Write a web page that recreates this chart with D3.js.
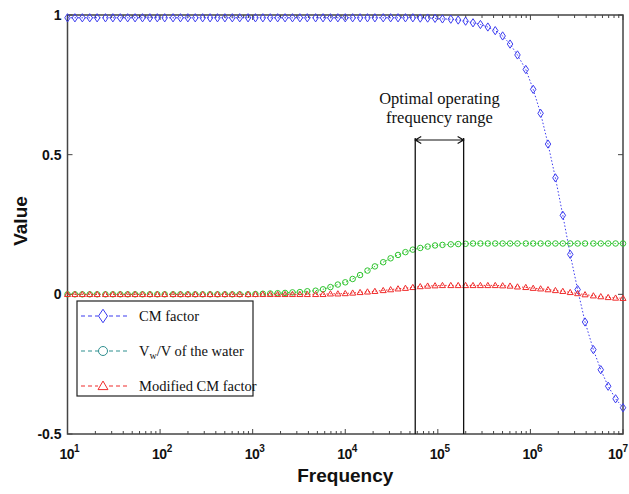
<!DOCTYPE html>
<head>
<meta charset="utf-8">
<style>
body { margin: 0; background: white; }
.frame { fill: none; stroke: #444; stroke-width: 1.5px; }
.ticklab { font-family: "Liberation Sans", Arial, sans-serif; font-weight: bold; font-size: 14px; fill: #111; }
.axlab { font-family: "Liberation Sans", Arial, sans-serif; font-weight: bold; font-size: 19px; fill: #111; }
.serif { font-family: "Liberation Serif", "Times New Roman", serif; fill: #111; }
</style>
</head>
<body>
<div id="mainDiv" style="width: 629px; height: 494px; background-color: white;">
<script src="https://cdn.jsdelivr.net/npm/d3@7"></script>
<script>

var width = 629;
var height = 494;

// sampling grid, log10(frequency)
var logFreq = [1.00, 1.08, 1.16, 1.24, 1.32, 1.41, 1.49, 1.57, 1.65, 1.73,
  1.81, 1.89, 1.97, 2.05, 2.14, 2.22, 2.30, 2.38, 2.46, 2.54,
  2.62, 2.70, 2.78, 2.86, 2.95, 3.03, 3.11, 3.19, 3.27, 3.35,
  3.43, 3.51, 3.59, 3.68, 3.76, 3.84, 3.92, 4.00, 4.08, 4.16,
  4.24, 4.32, 4.41, 4.49, 4.57, 4.65, 4.73, 4.81, 4.89, 4.97,
  5.05, 5.14, 5.22, 5.30, 5.38, 5.46, 5.54, 5.62, 5.70, 5.78,
  5.86, 5.95, 6.03, 6.11, 6.19, 6.27, 6.35, 6.43, 6.51, 6.59,
  6.68, 6.76, 6.84, 6.92, 7.00];

var cmFactor = [0.99, 0.99, 0.99, 0.99, 0.99, 0.99, 0.99, 0.99, 0.99, 0.99,
  0.99, 0.99, 0.99, 0.99, 0.99, 0.99, 0.99, 0.99, 0.99, 0.99,
  0.99, 0.99, 0.99, 0.99, 0.99, 0.99, 0.99, 0.99, 0.99, 0.99,
  0.99, 0.99, 0.99, 0.99, 0.99, 0.99, 0.99, 0.99, 0.99, 0.99,
  0.99, 0.99, 0.99, 0.99, 0.99, 0.99, 0.99, 0.989, 0.989, 0.988,
  0.986, 0.985, 0.982, 0.978, 0.972, 0.966, 0.957, 0.944, 0.925, 0.896,
  0.857, 0.805, 0.734, 0.648, 0.538, 0.417, 0.283, 0.143, 0.017, -0.099,
  -0.198, -0.270, -0.329, -0.374, -0.406];

var waterFrac = [0, 0, 0, 0, 0, 0, 0, 0, 0, 0,
  0, 0, 0, 0, 0, 0, 0, 0, 0, 0,
  0, 0, 0, 0, 0, 0.001, 0.002, 0.003, 0.004, 0.005,
  0.007, 0.008, 0.011, 0.013, 0.018, 0.026, 0.035, 0.043, 0.055, 0.069,
  0.085, 0.100, 0.115, 0.129, 0.141, 0.151, 0.160, 0.166, 0.171, 0.175,
  0.177, 0.179, 0.180, 0.181, 0.182, 0.182, 0.182, 0.182, 0.182, 0.182,
  0.182, 0.182, 0.182, 0.182, 0.182, 0.182, 0.182, 0.182, 0.182, 0.182,
  0.182, 0.182, 0.182, 0.182, 0.182];

var modifiedCM = [0, 0, 0, 0, 0, 0, 0, 0, 0, 0,
  0, 0, 0, 0, 0, 0, 0, 0, 0, 0,
  0, 0, 0, 0, 0, 0, 0, 0, 0, 0,
  0, 0, 0, 0, 0, 0.002, 0.002, 0.003, 0.005, 0.007,
  0.009, 0.011, 0.014, 0.017, 0.020, 0.022, 0.025, 0.028, 0.030, 0.031,
  0.032, 0.032, 0.032, 0.032, 0.032, 0.032, 0.032, 0.032, 0.031, 0.030,
  0.027, 0.025, 0.022, 0.020, 0.017, 0.014, 0.011, 0.007, 0.003, -0.001,
  -0.005, -0.008, -0.011, -0.013, -0.014];

var yTicks = [-0.5, 0, 0.5, 1];
var yTickLabels = ["-0.5", "0", "0.5", "1"];
var xDecades = [1, 2, 3, 4, 5, 6, 7];
var legendLabels = ["CM factor", "V_w/V of the water", "Modified CM factor"];
var bandFreqs = [5.7e4, 1.9e5];
var bandText = ["Optimal operating", "frequency range"];

var margin = {left: 67.5, right: 6, top: 15, bottom: 60};

var x = d3.scaleLog().domain([1e1, 1e7]).range([margin.left, width - margin.right]);
var y = d3.scaleLinear().domain([-0.5, 1]).range([height - margin.bottom, margin.top]);

var svg = d3.select("#mainDiv").append("svg")
    .attr("width", width)
    .attr("height", height);

var x0 = x.range()[0], x1 = x.range()[1], y0 = y.range()[0], y1 = y.range()[1];

// ticks, pointing into the box on all four sides
var ticks = svg.append("g").attr("stroke", "#444").attr("stroke-width", 1);
x.ticks().forEach(function(t) {
  var lg = Math.log10(t);
  var major = Math.abs(lg - Math.round(lg)) < 1e-9;
  var len = major ? 5 : 3;
  ticks.append("line").attr("x1", x(t)).attr("x2", x(t)).attr("y1", y0).attr("y2", y0 - len);
  ticks.append("line").attr("x1", x(t)).attr("x2", x(t)).attr("y1", y1).attr("y2", y1 + len);
});
yTicks.forEach(function(t) {
  ticks.append("line").attr("x1", x0).attr("x2", x0 + 5).attr("y1", y(t)).attr("y2", y(t));
  ticks.append("line").attr("x1", x1).attr("x2", x1 - 5).attr("y1", y(t)).attr("y2", y(t));
});

svg.append("rect").attr("class", "frame")
    .attr("x", x0).attr("y", y1).attr("width", x1 - x0).attr("height", y0 - y1);

// y tick labels
svg.append("g").selectAll("text")
  .data(yTicks)
  .enter().append("text")
  .attr("class", "ticklab")
  .attr("x", x0 - 6)
  .attr("y", function(d) { return y(d); })
  .attr("dy", "0.36em")
  .attr("text-anchor", "end")
  .text(function(d, i) { return yTickLabels[i]; });

// x tick labels 10^n (the last one is pulled in so it stays on the page)
var xl = svg.append("g").selectAll("text")
  .data(xDecades)
  .enter().append("text")
  .attr("class", "ticklab")
  .style("letter-spacing", "-0.5px")
  .attr("x", function(d) { return Math.min(x(Math.pow(10, d)) - 8, width - 21); })
  .attr("y", y0 + 25);
xl.append("tspan").text("10");
xl.append("tspan").attr("dy", -7).style("font-size", "10px").text(function(d) { return d; });

svg.append("text").attr("class", "axlab")
  .attr("x", (x0 + x1) / 2).attr("y", height - 12)
  .attr("text-anchor", "middle")
  .text("Frequency");

svg.append("text").attr("class", "axlab")
  .attr("transform", "translate(27," + 221 + ")rotate(-90)")
  .attr("text-anchor", "middle")
  .text("Value");

// series
var series = [
  {values: cmFactor, color: "#3c3cf0", shape: "diamond"},
  {values: waterFrac, color: "#2fc42f", shape: "circle"},
  {values: modifiedCM, color: "#f02c2c", shape: "triangle"}
];

function markerPath(shape, s) {
  if (shape == "diamond") return "M0," + (-s * 0.75) + "L" + (s * 0.5) + ",0L0," + (s * 0.75) + "L" + (-s * 0.5) + ",0Z";
  if (shape == "triangle") return "M0," + (-s * 0.55) + "L" + (s * 0.55) + "," + (s * 0.4) + "L" + (-s * 0.55) + "," + (s * 0.4) + "Z";
  return null;
}

function drawMarker(g, shape, color, s) {
  if (shape == "circle") {
    g.append("circle").attr("r", s * 0.5).attr("fill", "none").attr("stroke", color).attr("stroke-width", 1);
  } else {
    g.append("path").attr("d", markerPath(shape, s)).attr("fill", "none").attr("stroke", color).attr("stroke-width", 1);
  }
}

var line = d3.line()
    .x(function(d, i) { return x(Math.pow(10, logFreq[i])); })
    .y(function(d) { return y(d); });

series.forEach(function(s) {
  svg.append("path")
    .attr("d", line(s.values))
    .attr("fill", "none")
    .attr("stroke", s.color)
    .attr("stroke-width", 1)
    .attr("stroke-dasharray", "1.5,2");
  s.values.forEach(function(v, i) {
    var g = svg.append("g")
      .attr("transform", "translate(" + x(Math.pow(10, logFreq[i])) + "," + y(v) + ")");
    drawMarker(g, s.shape, s.color, 5.5);
  });
});

// optimal band annotation
var arrowY = 140;
bandFreqs.forEach(function(f) {
  svg.append("line")
    .attr("x1", x(f)).attr("x2", x(f))
    .attr("y1", arrowY - 2).attr("y2", y0)
    .attr("stroke", "#111").attr("stroke-width", 1.3);
});
var ax0 = x(bandFreqs[0]), ax1 = x(bandFreqs[1]);
svg.append("path")
  .attr("d", "M" + ax0 + "," + arrowY + "H" + ax1 +
    "M" + (ax0 + 6) + "," + (arrowY - 3.5) + "L" + ax0 + "," + arrowY + "L" + (ax0 + 6) + "," + (arrowY + 3.5) +
    "M" + (ax1 - 6) + "," + (arrowY - 3.5) + "L" + ax1 + "," + arrowY + "L" + (ax1 - 6) + "," + (arrowY + 3.5))
  .attr("fill", "none").attr("stroke", "#111").attr("stroke-width", 1.2);

svg.append("g").selectAll("text")
  .data(bandText)
  .enter().append("text")
  .attr("class", "serif")
  .attr("x", (ax0 + ax1) / 2)
  .attr("y", function(d, i) { return 104 + i * 19; })
  .attr("text-anchor", "middle")
  .style("font-size", "16.5px")
  .text(function(d) { return d; });

// legend
var legend = svg.append("g");
legend.append("rect")
  .attr("x", 77).attr("y", 301).attr("width", 176).attr("height", 95)
  .attr("fill", "white").attr("stroke", "#222").attr("stroke-width", 1.2);

var legendColors = ["#3c3cf0", "#2e8f8f", "#f02c2c"];
legendLabels.forEach(function(lab, i) {
  var ly = 316 + i * 35;
  legend.append("line")
    .attr("x1", 81).attr("x2", 130).attr("y1", ly).attr("y2", ly)
    .attr("stroke", legendColors[i]).attr("stroke-width", 1.1)
    .attr("stroke-dasharray", "4,3");
  var g = legend.append("g").attr("transform", "translate(103," + ly + ")");
  g.append("rect").attr("x", -5).attr("y", -6).attr("width", 10).attr("height", 12).attr("fill", "white");
  drawMarker(g, series[i].shape, legendColors[i], 9);
  var t = legend.append("text").attr("class", "serif")
    .attr("x", 139).attr("y", ly + 5)
    .style("font-size", "14.5px");
  if (lab.indexOf("_w") >= 0) {
    t.append("tspan").text("V");
    t.append("tspan").attr("dy", 3).style("font-size", "10px").text("w");
    t.append("tspan").attr("dy", -3).text("/V of the water");
  } else {
    t.text(lab);
  }
});

</script>
</div>
</body>
</html>
